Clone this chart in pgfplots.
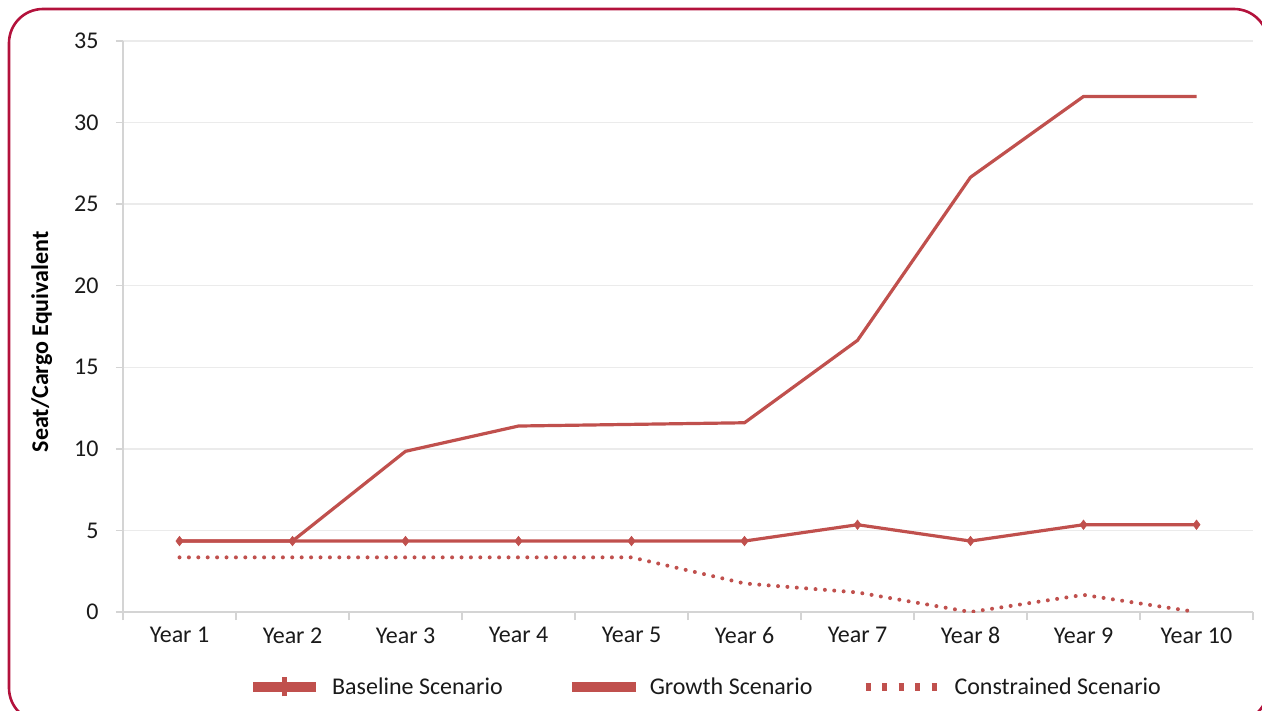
\documentclass[border=0pt]{standalone}
\usepackage{pgfplots}
\pgfplotsset{compat=1.18}
\usepackage{fontspec}
\setmainfont{Carlito}
\definecolor{lineRed}{HTML}{C0504D}
\definecolor{frameRed}{HTML}{B3123C}
\definecolor{gridGray}{HTML}{EBEBEB}
\definecolor{axisGray}{HTML}{D4D4D4}
\definecolor{txt}{HTML}{1A1A1A}
\begin{document}
\begin{tikzpicture}
\path[use as bounding box] (0,0) rectangle (1262bp,-711bp);
\begin{scope}
\clip (0,0) rectangle (1262bp,-711bp);
\draw[frameRed, line width=2.6bp, rounded corners=34bp] (9bp,-9bp) rectangle (1268bp,-722bp);
\end{scope}
\begin{axis}[
  at={(123bp,-612bp)}, anchor=origin,
  width=1130bp, height=571bp, scale only axis,
  xmin=0.5, xmax=10.5, ymin=0, ymax=35,
  axis x line*=bottom, axis y line*=left,
  axis line style={axisGray, line width=2bp},
  xtick={1,...,10},
  xticklabels={Year 1,Year 2,Year 3,Year 4,Year 5,Year 6,Year 7,Year 8,Year 9,Year 10},
  major x tick style={draw=none},
  minor xtick={0.5,1.5,...,10.5},
  minor x tick style={axisGray, line width=1.5bp},
  minor tick length=8bp,
  ytick={0,5,...,35},
  major y tick style={axisGray, line width=1.5bp},
  major tick length=7bp,
  tick align=outside,
  ymajorgrids, grid style={gridGray, line width=1.5bp},
  xticklabel style={font=\fontsize{24bp}{28bp}\selectfont, text=txt, yshift=-5bp},
  yticklabel style={font=\fontsize{24bp}{28bp}\selectfont, text=txt, xshift=-14bp},
  /pgf/number format/assume math mode=true,
  ylabel={\textbf{Seat/Cargo Equivalent}},
  ylabel style={font=\fontsize{24bp}{28bp}\selectfont, text=black, at={(axis description cs:-0.072,0.473)}, anchor=center, rotate=0},
  legend columns=3,
  legend style={at={(axis description cs:0.1106,-0.131)}, anchor=west, draw=none, fill=none,
    inner sep=0pt, nodes={inner sep=0pt},
    font=\fontsize{24bp}{28bp}\selectfont, text=txt,
    column sep=0pt},
  legend cell align=left,
]
\addplot[lineRed, line width=3.2bp, mark=diamond*, mark size=4.8bp, mark options={solid, fill=lineRed, line width=0.5bp},
  legend image code/.code={
    \path[draw=none] (0bp,0bp) -- (79bp,0bp);
    \draw[lineRed, line width=10bp] (0bp,0bp) -- (63bp,0bp);
    \draw[lineRed, line width=5bp] (31.5bp,-9.5bp) -- (31.5bp,9.5bp);
  }] coordinates {
  (1,4.35) (2,4.35) (3,4.35) (4,4.35) (5,4.35) (6,4.35) (7,5.35) (8,4.35) (9,5.35) (10,5.35)};
\addlegendentry{Baseline Scenario}
\addplot[lineRed, line width=3.2bp, line join=round,
  legend image code/.code={
    \path[draw=none] (0bp,0bp) -- (147bp,0bp);
    \draw[lineRed, line width=10bp] (69bp,0bp) -- (133bp,0bp);
  }] coordinates {
  (1,4.35) (2,4.35) (3,9.85) (4,11.4) (5,11.5) (6,11.6) (7,16.65) (8,26.65) (9,31.6) (10,31.6)};
\addlegendentry{Growth Scenario}
\addplot[lineRed, line width=4bp, line cap=round, dash pattern=on 0bp off 9.4bp,
  legend image code/.code={
    \path[draw=none] (0bp,0bp) -- (142bp,0bp);
    \draw[lineRed, line width=8bp, line cap=butt, dash pattern=on 5bp off 11.5bp] (53bp,0bp) -- (125bp,0bp);
  }] coordinates {
  (1,3.35) (2,3.35) (3,3.35) (4,3.35) (5,3.35) (6,1.75) (7,1.2) (8,0) (9,1.05) (10,0)};
\addlegendentry{Constrained Scenario}
\end{axis}
\end{tikzpicture}
\end{document}
